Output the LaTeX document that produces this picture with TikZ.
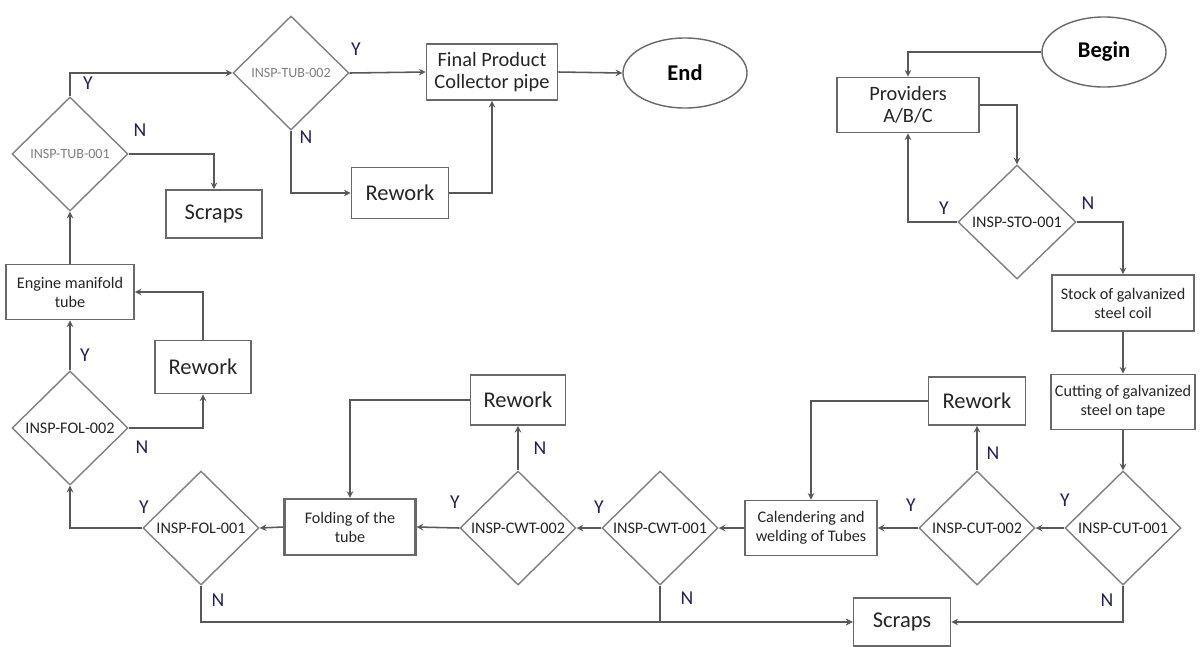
\documentclass[tikz,border=0pt]{standalone}
\usepackage{fontspec}
\setmainfont{Carlito}
\usepackage{xcolor}
\usetikzlibrary{shapes.geometric, arrows, positioning}
\definecolor{linegray}{RGB}{88,88,88}
\definecolor{boxgray}{RGB}{105,105,105}
\definecolor{diagray}{RGB}{128,128,128}
\definecolor{labelblue}{RGB}{35,35,80}
\newcommand{\bigtxt}{\fontsize{16}{18}\selectfont}
\newcommand{\midtxt}{\fontsize{14.5}{16}\selectfont}
\newcommand{\smalltxt}{\fontsize{11.5}{13.5}\selectfont}
\tikzstyle{startstop} = [ellipse, draw=boxgray, line width=1pt, minimum width=3.1cm, minimum height=1.75cm, inner sep=0pt, font=\bigtxt\bfseries]
\tikzstyle{process} = [rectangle, draw=boxgray, line width=1.2pt, text centered, align=center, inner sep=0pt, text=black!85]
\tikzstyle{decision} = [diamond, draw=diagray, line width=1pt, minimum width=2.9cm, minimum height=2.85cm, inner sep=0pt, font=\smalltxt, text=black!85]
\tikzstyle{arrow} = [draw=linegray, line width=1.1pt, ->, >=stealth]
\tikzstyle{yn} = [font=\fontsize{14}{16}\selectfont, text=labelblue]

\begin{document}
\begin{tikzpicture}[x=0.025cm, y=-0.025cm]
    \fill[white] (0,0) rectangle (1200,646);
    \useasboundingbox (0,0) rectangle (1200,646);

    % top left
    \node (tub1) [decision, font=\fontsize{10}{12}\selectfont, text=gray] at (70,154) {INSP-TUB-001};
    \node (tub2) [decision, font=\fontsize{10}{12}\selectfont, text=gray] at (291,73) {INSP-TUB-002};
    \node (scrapA) [process, minimum width=2.4cm, minimum height=1.2cm, font=\bigtxt] at (214,214) {Scraps};
    \node (reworkA) [process, minimum width=2.425cm, minimum height=1.275cm, font=\bigtxt] at (400,193) {Rework};
    \node (final) [process, minimum width=3.275cm, minimum height=1.4cm, font=\midtxt] at (492,72) {Final Product\\Collector pipe};
    \node (endnode) [startstop] at (685,73) {End};

    % top right
    \node (begin) [startstop] at (1104,52) {Begin};
    \node (providers) [process, minimum width=3.55cm, minimum height=1.375cm, font=\midtxt] at (908,105) {Providers\\A/B/C};
    \node (sto) [decision, minimum width=2.95cm] at (1017,222) {INSP-STO-001};
    \node (stock) [process, minimum width=3.55cm, minimum height=1.4cm, font=\smalltxt] at (1123,303) {Stock of galvanized\\steel coil};
    \node (cutting) [process, minimum width=3.6cm, minimum height=1.375cm, font=\smalltxt] at (1123,402) {Cutting of galvanized\\steel on tape};

    % bottom row
    \node (cut1) [decision] at (1123,528) {INSP-CUT-001};
    \node (cut2) [decision] at (977,528) {INSP-CUT-002};
    \node (reworkC) [process, minimum width=2.425cm, minimum height=1.2cm, font=\bigtxt] at (977,401) {Rework};
    \node (calender) [process, minimum width=3.3cm, minimum height=1.375cm, font=\smalltxt] at (811,528) {Calendering and\\welding of Tubes};
    \node (cwt1) [decision] at (660,528) {INSP-CWT-001};
    \node (cwt2) [decision] at (518,528) {INSP-CWT-002};
    \node (reworkB) [process, minimum width=2.375cm, minimum height=1.25cm, font=\bigtxt] at (518,400) {Rework};
    \node (folding) [process, line width=1.6pt, minimum width=3.275cm, minimum height=1.4cm, font=\smalltxt] at (350,527) {Folding of the\\tube};
    \node (fol1) [decision] at (201,528) {INSP-FOL-001};
    \node (scrapB) [process, minimum width=2.425cm, minimum height=1.2cm, font=\bigtxt] at (902,622) {Scraps};

    % left column
    \node (fol2) [decision] at (70,428) {INSP-FOL-002};
    \node (reworkL) [process, minimum width=2.4cm, minimum height=1.325cm, font=\bigtxt] at (203,367) {Rework};
    \node (engine) [process, minimum width=3.2cm, minimum height=1.375cm, font=\smalltxt] at (70,292) {Engine manifold\\tube};

    % Y / N marks
    \node (tub1y) [yn] at (88,83) {Y};
    \node (tub1n) [yn] at (140,130) {N};
    \node (tub2y) [yn] at (356,49) {Y};
    \node (tub2n) [yn] at (306,137) {N};
    \node (stoy) [yn] at (944,208) {Y};
    \node (ston) [yn] at (1088,203) {N};
    \node (fol2y) [yn] at (85,355) {Y};
    \node (fol2n) [yn] at (142,447) {N};
    \node (fol1y) [yn] at (144,507) {Y};
    \node (fol1n) [yn] at (218,600) {N};
    \node (cwt2y) [yn] at (455,502) {Y};
    \node (cwt2n) [yn] at (540,448) {N};
    \node (cwt1y) [yn] at (599,507) {Y};
    \node (cwt1n) [yn] at (687,598) {N};
    \node (cut2y) [yn] at (911,505) {Y};
    \node (cut2n) [yn] at (993,453) {N};
    \node (cut1y) [yn] at (1065,500) {Y};
    \node (cut1n) [yn] at (1107,600) {N};

    \draw [arrow] (begin.west) -| (providers.north);
    \draw [arrow] (providers.east) -| (sto.north);
    \draw [arrow] (sto.west) -| (providers.south);
    \draw [arrow] (sto.east) -| (stock.north);
    \draw [arrow] (stock.south) -- (cutting.north);
    \draw [arrow] (cutting.south) -- (cut1.north);
    \draw [arrow] (cut1.west) -- (cut2.east);
    \draw [arrow] (cut1.south) |- (scrapB.east);
    \draw [arrow] (cut2.north) -- (reworkC.south);
    \draw [arrow] (cut2.west) -- (calender.east);
    \draw [arrow] (reworkC.west) -| (calender.north);
    \draw [arrow] (calender.west) -- (cwt1.east);
    \draw [arrow] (cwt1.west) -- (cwt2.east);
    \draw [arrow] (cwt1.south) |- (scrapB.west);
    \draw [arrow] (cwt2.north) -- (reworkB.south);
    \draw [arrow] (cwt2.west) -- (folding.east);
    \draw [arrow] (reworkB.west) -| (folding.north);
    \draw [arrow] (folding.west) -- (fol1.east);
    \draw [arrow] (fol1.west) -| (fol2.south);
    \draw [arrow] (fol1.south) |- (scrapB.west);
    \draw [arrow] (fol2.north) -- (engine.south);
    \draw [arrow] (fol2.east) -| (reworkL.south);
    \draw [arrow] (reworkL.north) |- (engine.east);
    \draw [arrow] (engine.north) -- (tub1.south);
    \draw [arrow] (tub1.north) |- (tub2.west);
    \draw [arrow] (tub1.east) -| (scrapA.north);
    \draw [arrow] (tub2.east) -- (final.west);
    \draw [arrow] (tub2.south) |- (reworkA.west);
    \draw [arrow] (reworkA.east) -| (final.south);
    \draw [arrow] (final.east) -- (endnode.west);
\end{tikzpicture}
\end{document}
